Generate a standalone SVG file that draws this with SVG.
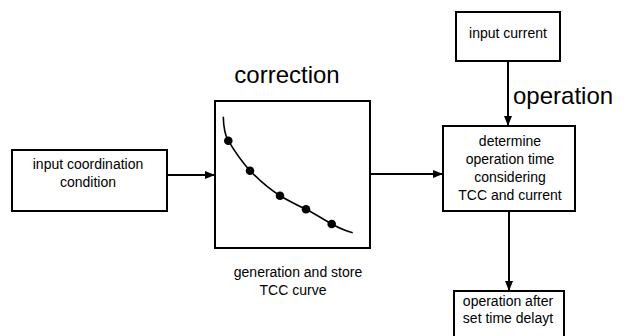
<svg xmlns="http://www.w3.org/2000/svg" width="624" height="336" viewBox="0 0 624 336">
<defs>
<style>
.box{fill:#fff;stroke:#000;stroke-width:2}
.t{font-family:"Liberation Sans",Arial,sans-serif;font-size:14px;fill:#000;text-anchor:middle}
.big{font-family:"Liberation Sans",Arial,sans-serif;font-size:24px;fill:#000}
.conn{stroke:#000;stroke-width:2;fill:none}
</style>
<marker id="ah" viewBox="0 0 10 8" refX="10" refY="4" markerWidth="10" markerHeight="8" markerUnits="userSpaceOnUse" orient="auto">
<path d="M0,0 L10,4 L0,8 Z" fill="#000"/>
</marker>
</defs>
<rect width="624" height="336" fill="#fff"/>
<g id="connectors">
<line class="conn" x1="167" y1="175" x2="215" y2="175" marker-end="url(#ah)"/>
<line class="conn" x1="370" y1="174" x2="443" y2="174" marker-end="url(#ah)"/>
<line class="conn" x1="508" y1="61" x2="508" y2="126" marker-end="url(#ah)"/>
<line class="conn" x1="509" y1="211" x2="509" y2="291" marker-end="url(#ah)"/>
</g>
<g id="label-operation"><text class="big" x="513" y="104">operation</text></g>
<g id="label-correction"><text class="big" x="287" y="83" text-anchor="middle">correction</text></g>
<g id="node-input-coordination">
<rect class="box" x="12" y="150" width="155" height="61"/>
<text class="t" x="88" y="169">input coordination</text>
<text class="t" x="88" y="187">condition</text>
</g>
<g id="node-tcc-curve">
<rect class="box" x="215" y="101" width="155" height="147"/>
<path d="M223.3,116.7 C223.5,128 225,135 228.3,140.7 C235,152 242,162 250,170.7 C259,180 269,189 280,195.7 C289,201 297,205 306,209.3 C315,214 323,219 331.7,224 C339,228 346,231 352.7,232.7" fill="none" stroke="#000" stroke-width="1.6"/>
<circle cx="228.3" cy="140.7" r="4.3"/>
<circle cx="250" cy="170.7" r="4.3"/>
<circle cx="280" cy="195.7" r="4.3"/>
<circle cx="306" cy="209.3" r="4.3"/>
<circle cx="331.7" cy="224" r="4.3"/>
<text class="t" x="298" y="277">generation and store</text>
<text class="t" x="293" y="295">TCC curve</text>
</g>
<g id="node-input-current">
<rect class="box" x="456" y="12" width="104" height="49"/>
<text class="t" x="508" y="38">input current</text>
</g>
<g id="node-determine">
<rect class="box" x="443" y="126" width="132" height="85"/>
<text class="t" x="510" y="146">determine</text>
<text class="t" x="510" y="163.5">operation time</text>
<text class="t" x="510" y="181.5">considering</text>
<text class="t" x="510" y="199.5">TCC and current</text>
</g>
<g id="node-operation-after">
<rect class="box" x="454" y="291" width="110" height="60"/>
<text class="t" x="508" y="306">operation after</text>
<text class="t" x="508" y="323">set time delayt</text>
</g>
</svg>
